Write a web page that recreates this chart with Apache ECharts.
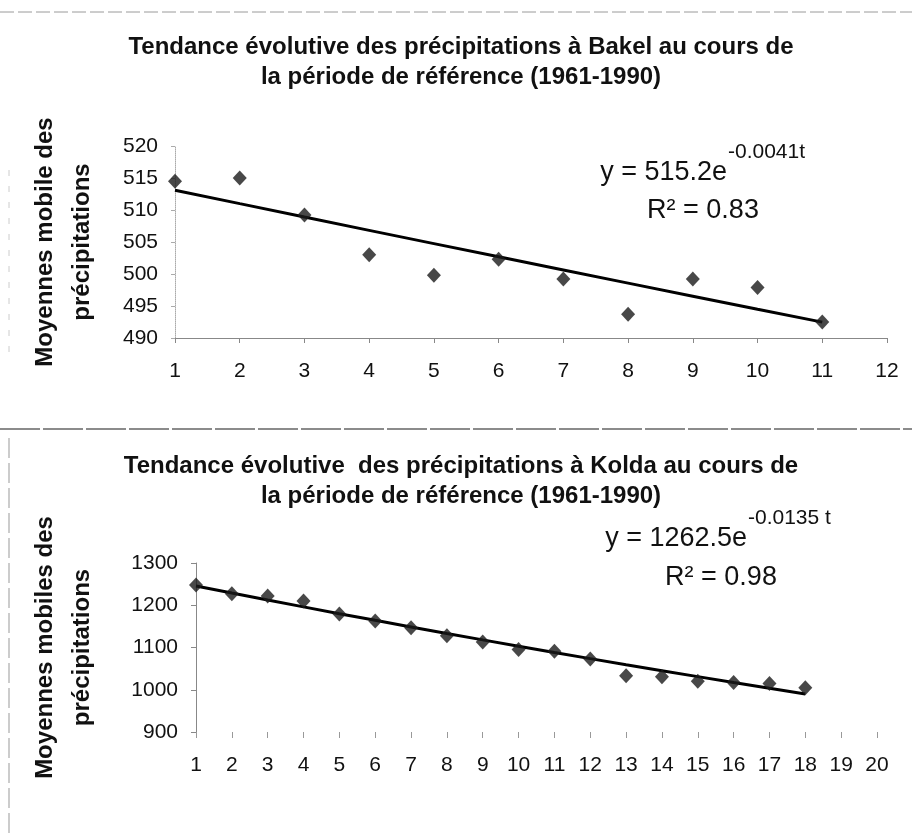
<!DOCTYPE html>
<html>
<head>
<meta charset="utf-8">
<script src="https://cdn.jsdelivr.net/npm/echarts@6/dist/echarts.min.js"></script>
<style>
html,body{margin:0;padding:0;background:#fff;}
#chart{width:912px;height:833px;}
</style>
</head>
<body>
<div id="chart"></div>
<script>
// ---- Data: Bakel (top) ----
const bakelT = [1, 2, 3, 4, 5, 6, 7, 8, 9, 10, 11];
const bakelValues = [514.5, 515, 509.2, 503, 499.8, 502.3, 499.2, 493.7, 499.2, 497.9, 492.5];
const bakelTrendCoef = [515.2, -0.0041];   // y = a * e^(b t), as printed
const bakelYTicks = [490, 495, 500, 505, 510, 515, 520];
const bakelXTicks = [1, 2, 3, 4, 5, 6, 7, 8, 9, 10, 11, 12];

// ---- Data: Kolda (bottom) ----
const koldaT = [1, 2, 3, 4, 5, 6, 7, 8, 9, 10, 11, 12, 13, 14, 15, 16, 17, 18];
const koldaValues = [1248, 1227, 1222, 1210, 1179, 1163, 1147, 1128, 1113, 1095, 1091, 1073, 1033, 1031, 1020, 1017, 1015, 1005];
const koldaTrendCoef = [1262.5, -0.0135];
const koldaYTicks = [900, 1000, 1100, 1200, 1300];
const koldaXTicks = [1, 2, 3, 4, 5, 6, 7, 8, 9, 10, 11, 12, 13, 14, 15, 16, 17, 18, 19, 20];

// ---- Texts ----
const title1 = 'Tendance évolutive des précipitations à Bakel au cours de\nla période de référence (1961-1990)';
const title2 = 'Tendance évolutive  des précipitations à Kolda au cours de\nla période de référence (1961-1990)';
const yName1 = 'Moyennes mobile des\nprécipitations';
const yName2 = 'Moyennes mobiles des\nprécipitations';
const eq1 = ['y = 515.2e', '-0.0041t', 'R² = 0.83'];
const eq2 = ['y = 1262.5e', '-0.0135 t', 'R² = 0.98'];

const FONT = '"Liberation Sans", Arial, sans-serif';

function trend(coef, ts) {
  return ts.map(t => [t, coef[0] * Math.exp(coef[1] * t)]);
}
function pairs(ts, vs) { return ts.map((t, i) => [t, vs[i]]); }
const plain = v => String(v);

const chart = echarts.init(document.getElementById('chart'), null, {renderer: 'canvas'});

const titleStyle = {fontFamily: FONT, fontSize: 24, fontWeight: 'bold', color: '#111', lineHeight: 30};
const axisLabelStyle = {fontFamily: FONT, fontSize: 21, color: '#111', formatter: plain};
const nameStyle = {fontFamily: FONT, fontSize: 24, fontWeight: 'bold', color: '#111', lineHeight: 37, align: 'center'};

const option = {
  animation: false,
  backgroundColor: '#fff',
  title: [
    {text: title1, left: 456, top: 27, textAlign: 'center', textStyle: titleStyle},
    {text: title2, left: 456, top: 446, textAlign: 'center', textStyle: titleStyle}
  ],
  grid: [
    {left: 175, top: 146, width: 712, height: 192},
    {left: 196, top: 563, width: 681, height: 169}
  ],
  xAxis: [
    {
      gridIndex: 0, type: 'value', min: bakelXTicks[0], max: bakelXTicks[bakelXTicks.length - 1], interval: 1,
      axisLine: {show: true, lineStyle: {color: '#888', width: 1}},
      axisTick: {show: true, length: 5, lineStyle: {color: '#888'}},
      axisLabel: Object.assign({}, axisLabelStyle, {margin: 23}),
      splitLine: {show: false}
    },
    {
      gridIndex: 1, type: 'value', min: koldaXTicks[0], max: koldaXTicks[koldaXTicks.length - 1], interval: 1,
      axisLine: {show: false},
      axisTick: {show: true, length: 6, lineStyle: {color: '#999'}},
      axisLabel: Object.assign({}, axisLabelStyle, {margin: 23}),
      splitLine: {show: false}
    }
  ],
  yAxis: [
    {
      gridIndex: 0, type: 'value', min: bakelYTicks[0], max: bakelYTicks[bakelYTicks.length - 1], interval: 5,
      name: yName1, nameLocation: 'middle', nameGap: 74, nameRotate: 90, nameTextStyle: nameStyle,
      axisLine: {show: true, lineStyle: {color: '#aaa', width: 1, type: 'dotted'}},
      axisTick: {show: true, length: 4, lineStyle: {color: '#aaa'}},
      axisLabel: Object.assign({}, axisLabelStyle, {margin: 17}),
      splitLine: {show: false}
    },
    {
      gridIndex: 1, type: 'value', min: koldaYTicks[0], max: koldaYTicks[koldaYTicks.length - 1], interval: 100,
      name: yName2, nameLocation: 'middle', nameGap: 95, nameRotate: 90, nameTextStyle: nameStyle,
      axisLine: {show: true, lineStyle: {color: '#888', width: 1}},
      axisTick: {show: true, length: 5, lineStyle: {color: '#888'}},
      axisLabel: Object.assign({}, axisLabelStyle, {margin: 18}),
      splitLine: {show: false}
    }
  ],
  series: [
    {
      type: 'line', xAxisIndex: 0, yAxisIndex: 0, data: trend(bakelTrendCoef, bakelT),
      showSymbol: false, symbol: 'none', lineStyle: {color: '#000', width: 3}, z: 2
    },
    {
      type: 'scatter', xAxisIndex: 0, yAxisIndex: 0, data: pairs(bakelT, bakelValues),
      symbol: 'diamond', symbolSize: [14, 15], itemStyle: {color: '#1a1a1a'}, z: 3
    },
    {
      type: 'line', xAxisIndex: 1, yAxisIndex: 1, data: trend(koldaTrendCoef, koldaT),
      showSymbol: false, symbol: 'none', lineStyle: {color: '#000', width: 3}, z: 2
    },
    {
      type: 'scatter', xAxisIndex: 1, yAxisIndex: 1, data: pairs(koldaT, koldaValues),
      symbol: 'diamond', symbolSize: [14, 15], itemStyle: {color: '#1a1a1a'}, z: 3
    }
  ],
  graphic: [
    // page frame artefacts
    {type: 'line', shape: {x1: 0, y1: 12, x2: 912, y2: 12}, style: {stroke: '#9a9a9a', lineWidth: 1, lineDash: [14, 4]}, silent: true},
    {type: 'line', shape: {x1: 0, y1: 429, x2: 912, y2: 429}, style: {stroke: '#666', lineWidth: 1.5, lineDash: [40, 3]}, silent: true},
    {type: 'line', shape: {x1: 9, y1: 438, x2: 9, y2: 833}, style: {stroke: '#999', lineWidth: 1, lineDash: [20, 5]}, silent: true},
    {type: 'line', shape: {x1: 9, y1: 170, x2: 9, y2: 360}, style: {stroke: '#ccc', lineWidth: 1, lineDash: [6, 10]}, silent: true},
    // equations
    {type: 'text', x: 727, y: 173, style: {text: eq1[0], font: '27px ' + FONT, fill: '#111', textAlign: 'right', textVerticalAlign: 'middle'}},
    {type: 'text', x: 728, y: 152, style: {text: eq1[1], font: '21px ' + FONT, fill: '#111', textAlign: 'left', textVerticalAlign: 'middle'}},
    {type: 'text', x: 703, y: 211, style: {text: eq1[2], font: '27px ' + FONT, fill: '#111', textAlign: 'center', textVerticalAlign: 'middle'}},
    {type: 'text', x: 747, y: 539, style: {text: eq2[0], font: '27px ' + FONT, fill: '#111', textAlign: 'right', textVerticalAlign: 'middle'}},
    {type: 'text', x: 748, y: 518, style: {text: eq2[1], font: '21px ' + FONT, fill: '#111', textAlign: 'left', textVerticalAlign: 'middle'}},
    {type: 'text', x: 721, y: 578, style: {text: eq2[2], font: '27px ' + FONT, fill: '#111', textAlign: 'center', textVerticalAlign: 'middle'}}
  ]
};
chart.setOption(option);
</script>
</body>
</html>
